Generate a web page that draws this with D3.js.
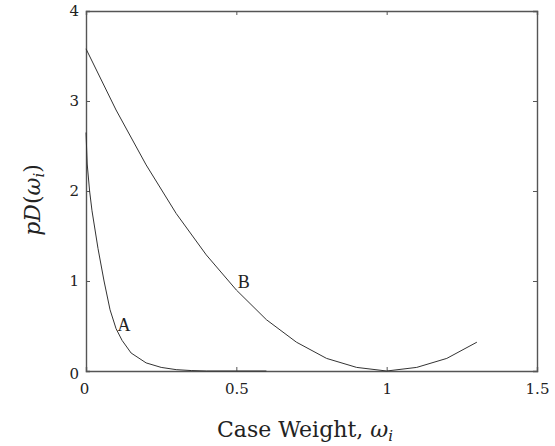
<!DOCTYPE html>
<html><head><meta charset="utf-8">
<script src="https://cdn.jsdelivr.net/npm/d3@7"></script>
<style>
html,body{margin:0;padding:0;background:#fff;}
svg{display:block;}
text{font-family:"DejaVu Serif","Liberation Serif",serif;fill:#222;}
</style></head>
<body>
<script>
// Data
const xTicks = [0, 0.5, 1, 1.5];
const yTicks = [0, 1, 2, 3, 4];
const xTickLabels = ["0", "0.5", "1", "1.5"];
const yTickLabels = ["0", "1", "2", "3", "4"];

const curveA_x = [0, 0.004, 0.012, 0.02, 0.04, 0.06, 0.08, 0.10, 0.12, 0.15, 0.20, 0.25, 0.30, 0.35, 0.40, 0.50, 0.60];
const curveA_y = [2.65, 2.3, 2.0, 1.78, 1.36, 1.0, 0.68, 0.47, 0.34, 0.20, 0.09, 0.04, 0.015, 0.005, 0.0, 0.0, 0.0];

const curveB_x = [0, 0.1, 0.2, 0.3, 0.4, 0.5, 0.6, 0.7, 0.8, 0.9, 1.0, 1.1, 1.2, 1.3];
const curveB_y = [3.58, 2.90, 2.29, 1.75, 1.29, 0.90, 0.57, 0.32, 0.14, 0.04, 0.0, 0.04, 0.14, 0.32];

const curveLabels = [{name:"A", x:0.105, y:0.45}, {name:"B", x:0.505, y:0.92}];

(function(){
const W = 555, H = 446;
const m = {left:86, right:18, top:11, bottom:75};

const svg = d3.select("body").append("svg").attr("width", W).attr("height", H);

const x = d3.scaleLinear().domain([0, 1.5]).range([m.left, W - m.right]);
const y = d3.scaleLinear().domain([0, 4]).range([H - m.bottom, m.top]);

const axisColor = "#555";
const tickLen = 4;

const gBottom = svg.append("g").attr("transform", `translate(0,${y(0)})`)
  .call(d3.axisBottom(x).tickValues(xTicks).tickSize(-tickLen).tickPadding(12)
    .tickFormat((d,i)=>xTickLabels[i]));
const gTop = svg.append("g").attr("transform", `translate(0,${y(4)})`)
  .call(d3.axisTop(x).tickValues(xTicks).tickSize(-tickLen).tickFormat(""));
const gLeft = svg.append("g").attr("transform", `translate(${x(0)},0)`)
  .call(d3.axisLeft(y).tickValues(yTicks).tickSize(-tickLen).tickPadding(7)
    .tickFormat((d,i)=>yTickLabels[i]));
const gRight = svg.append("g").attr("transform", `translate(${x(1.5)},0)`)
  .call(d3.axisRight(y).tickValues(yTicks).tickSize(-tickLen).tickFormat(""));

[gBottom, gTop, gLeft, gRight].forEach(g => {
  g.select(".domain").attr("stroke", axisColor).attr("stroke-width", 1.4);
  g.selectAll(".tick line").attr("stroke", axisColor).attr("stroke-width", 1);
  g.selectAll(".tick text").style("font-family", '"DejaVu Serif",serif')
    .style("font-size", "15px").attr("fill", "#222");
});
gBottom.selectAll(".tick text").filter((d,i)=>i===0).attr("dx","-2px");
gLeft.selectAll(".tick text").filter((d,i)=>i===0).attr("dy","0.5em");

const line = d3.line().x(d => x(d[0])).y(d => y(d[1]));
const dataA = curveA_x.map((v,i)=>[v, curveA_y[i]]);
const dataB = curveB_x.map((v,i)=>[v, curveB_y[i]]);

svg.append("path").datum(dataA).attr("d", line)
  .attr("fill","none").attr("stroke","#333").attr("stroke-width",1);
svg.append("path").datum(dataB).attr("d", line)
  .attr("fill","none").attr("stroke","#333").attr("stroke-width",1);

svg.selectAll(".clabel").data(curveLabels).enter().append("text")
  .attr("class","clabel")
  .attr("x", d => x(d.x)).attr("y", d => y(d.y))
  .style("font-family", '"Liberation Serif",serif').style("font-size","18px")
  .text(d => d.name);

const xt = svg.append("text").attr("x", 305).attr("y", 437)
  .attr("text-anchor","middle").style("font-size","22px");
xt.append("tspan").text("Case Weight, ");
xt.append("tspan").style("font-style","italic").text("ω");
xt.append("tspan").style("font-style","italic").style("font-size","15px").attr("dy","4").text("i");

const yt = svg.append("text").attr("transform","translate(40,200) rotate(-90)")
  .attr("text-anchor","middle").style("font-size","22px");
yt.append("tspan").style("font-style","italic").text("pD");
yt.append("tspan").text("(");
yt.append("tspan").style("font-style","italic").text("ω");
yt.append("tspan").style("font-style","italic").style("font-size","15px").attr("dy","4").text("i");
yt.append("tspan").attr("dy","-4").text(")");
})();
</script>
</body></html>
